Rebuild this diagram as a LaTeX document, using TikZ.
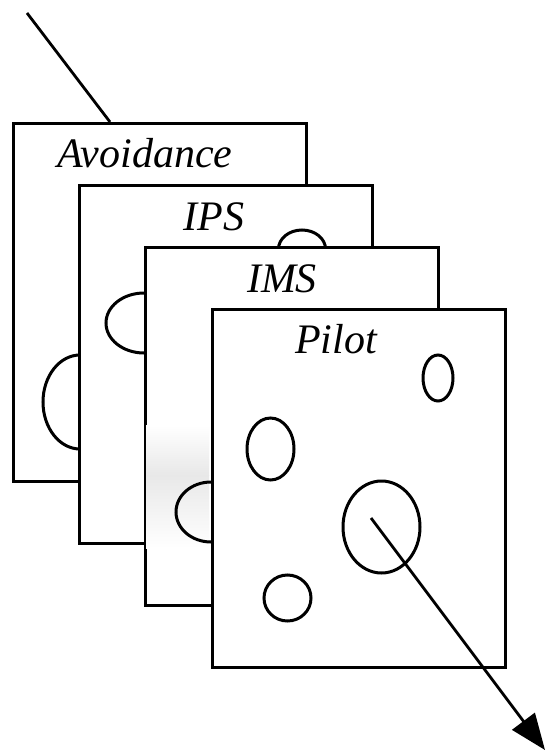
\documentclass[tikz,border=0pt]{standalone}
\usepackage{fontspec}
\setmainfont{Liberation Serif}
\usetikzlibrary{arrows.meta}
\begin{document}
\begin{tikzpicture}[x=1pt,y=-1pt,
  card/.style={draw=black, fill=white, line width=3.3pt, line join=miter, inner sep=0pt,
    minimum width=293pt, minimum height=358pt, anchor=north west},
  blob/.style={draw=black, line width=3pt},
  lbl/.style={anchor=base, inner sep=0pt, font=\fontsize{42}{50}\selectfont\itshape},
  ray/.style={draw=black, line width=2.8pt}]
\useasboundingbox (0,0) rectangle (545,752);
% incoming ray
\coordinate (src) at (27,13);
\coordinate (hit) at (110,122);
\draw[ray] (src) -- (hit);
% Avoidance
\node[card] (av) at (12,122) {};
\node[lbl] (tav) at (145,167) {Avoidance};
\draw[blob] (80,402) ellipse [x radius=37, y radius=47];
% IPS
\node[card] (ips) at (78,184) {};
\node[lbl] (tips) at (214,230) {IPS};
\draw[blob] (302,249) ellipse [x radius=23.5, y radius=19];
\draw[blob] (144,323) ellipse [x radius=38, y radius=30];
% IMS
\node[card] (ims) at (144,246) {};
\shade[top color=white, bottom color=black!9] (146,425) rectangle (209,475);
\shade[top color=black!9, bottom color=white] (146,475) rectangle (209,548);
\node[lbl] (tims) at (282,292) {IMS};
\draw[blob] (211,512) ellipse [x radius=35, y radius=30];
% Pilot
\node[card] (pil) at (211,308) {};
\node[lbl] (tpil) at (336,353) {Pilot};
\draw[blob] (438,378) ellipse [x radius=15, y radius=23];
\draw[blob] (270.5,449) ellipse [x radius=23.5, y radius=31];
\draw[blob] (381.5,527) ellipse [x radius=38.5, y radius=46];
\draw[blob] (287.5,598) ellipse [x radius=23.5, y radius=23];
% outgoing ray
\coordinate (out0) at (371,518);
\coordinate (out1) at (545,750);
\draw[ray, -{Triangle[length=36pt, width=28pt]}] (out0) -- (out1);
\end{tikzpicture}
\end{document}
